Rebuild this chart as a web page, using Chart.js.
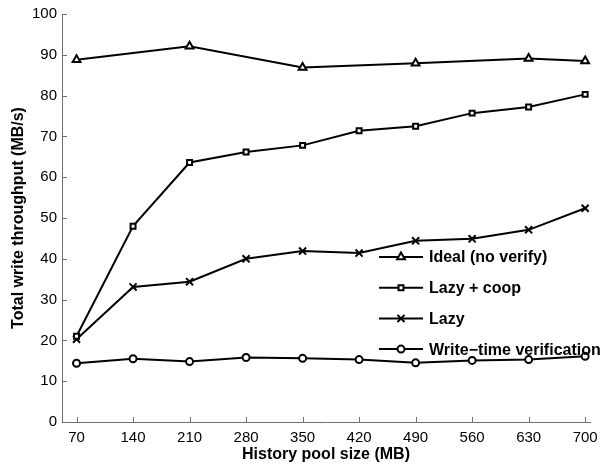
<!DOCTYPE html>
<html lang="en">
<head>
    <meta charset="UTF-8">
    <title>Total write throughput vs history pool size</title>
    <script src="https://cdn.jsdelivr.net/npm/chart.js"></script>
    <style>
        html, body { margin: 0; padding: 0; background: #fff; }
    </style>
</head>
<body>
    <canvas id="myChart" width="605" height="465"></canvas>
    <script>
        // data
        const poolSizes = [70, 140, 210, 280, 350, 420, 490, 560, 630, 700];
        const idealSizes = [70, 210, 350, 490, 630, 700];
        const idealValues = [88.8, 92.1, 86.9, 87.9, 89.1, 88.5];
        const lazyCoopValues = [21.0, 48.0, 63.6, 66.2, 67.8, 71.4, 72.5, 75.7, 77.2, 80.3];
        const lazyValues = [20.3, 33.1, 34.4, 40.0, 41.9, 41.4, 44.4, 44.9, 47.1, 52.4];
        const writeTimeValues = [14.4, 15.5, 14.8, 15.8, 15.6, 15.3, 14.5, 15.1, 15.3, 16.1];
        const xTickLabels = [70, 140, 210, 280, 350, 420, 490, 560, 630, 700];
        const yTickLabels = [0, 10, 20, 30, 40, 50, 60, 70, 80, 90, 100];
        const seriesNames = ['Ideal (no verify)', 'Lazy + coop', 'Lazy', 'Write\u2212time verification'];

        const FONT = '"Liberation Sans", Arial, Helvetica, sans-serif';
        const AXIS_GREY = '#707070';

        function pairs(xs, ys) {
            return xs.map((x, i) => ({ x: x, y: ys[i] }));
        }

        function series(label, data, style, radius) {
            return {
                label: label,
                data: data,
                borderColor: '#000',
                backgroundColor: '#fff',
                borderWidth: 2,
                pointStyle: style,
                pointRadius: radius,
                pointBorderWidth: 2,
                pointBorderColor: '#000',
                pointBackgroundColor: '#fff',
                tension: 0,
                clip: false
            };
        }

        // ticks drawn inward, like the original plot
        const inwardTicks = {
            id: 'inwardTicks',
            afterDraw(chart) {
                const ctx = chart.ctx;
                const x = chart.scales.x, y = chart.scales.y;
                const area = chart.chartArea;
                ctx.save();
                ctx.strokeStyle = AXIS_GREY;
                ctx.lineWidth = 1;
                ctx.beginPath();
                xTickLabels.forEach(v => {
                    const px = Math.round(x.getPixelForValue(v)) + 0.5;
                    ctx.moveTo(px, area.bottom);
                    ctx.lineTo(px, area.bottom - 5);
                });
                yTickLabels.forEach(v => {
                    const py = Math.round(y.getPixelForValue(v)) + 0.5;
                    ctx.moveTo(area.left, py);
                    ctx.lineTo(area.left + 5, py);
                });
                ctx.stroke();
                ctx.restore();
            }
        };

        // legend sits inside the plot, on the right
        const insideLegend = {
            id: 'insideLegend',
            afterDraw(chart) {
                const ctx = chart.ctx;
                const area = chart.chartArea;
                const x0 = area.left + 317;
                const y0 = area.top + 243;
                ctx.save();
                chart.data.datasets.forEach((ds, i) => {
                    const yy = y0 + i * 30.7;
                    ctx.strokeStyle = '#000';
                    ctx.lineWidth = 2;
                    ctx.beginPath();
                    ctx.moveTo(x0, yy);
                    ctx.lineTo(x0 + 44, yy);
                    ctx.stroke();
                    ctx.fillStyle = '#fff';
                    Chart.helpers.drawPoint(ctx, {
                        pointStyle: ds.pointStyle,
                        radius: ds.pointRadius,
                        borderWidth: 2,
                        rotation: 0
                    }, x0 + 22, yy);
                    ctx.fillStyle = '#000';
                    ctx.font = 'bold 16px ' + FONT;
                    ctx.textBaseline = 'middle';
                    ctx.textAlign = 'left';
                    ctx.fillText(ds.label, x0 + 50, yy + 1);
                });
                ctx.restore();
            }
        };

        const ctx = document.getElementById('myChart').getContext('2d');
        const myChart = new Chart(ctx, {
            type: 'line',
            data: {
                datasets: [
                    series(seriesNames[0], pairs(idealSizes, idealValues), 'triangle', 4.5),
                    series(seriesNames[1], pairs(poolSizes, lazyCoopValues), 'rect', 3.5),
                    series(seriesNames[2], pairs(poolSizes, lazyValues), 'crossRot', 5),
                    series(seriesNames[3], pairs(poolSizes, writeTimeValues), 'circle', 3.5)
                ]
            },
            plugins: [inwardTicks, insideLegend],
            options: {
                responsive: false,
                animation: false,
                devicePixelRatio: 1,
                layout: { padding: { top: 10, right: 15, left: 0, bottom: 0 } },
                plugins: {
                    legend: { display: false },
                    tooltip: { enabled: false }
                },
                scales: {
                    x: {
                        type: 'linear',
                        min: 52,
                        max: 706,
                        afterBuildTicks: function(scale) {
                            scale.ticks = xTickLabels.map(v => ({ value: v }));
                        },
                        afterFit: function(scale) { scale.height = 43; },
                        ticks: {
                            color: '#000',
                            font: { family: FONT, size: 15 },
                            maxRotation: 0,
                            autoSkip: false,
                            padding: 7
                        },
                        grid: { display: false, drawTicks: false },
                        border: { display: true, color: AXIS_GREY, width: 1 },
                        title: {
                            display: true,
                            text: 'History pool size (MB)',
                            color: '#000',
                            font: { family: FONT, size: 16, weight: 'bold' },
                            padding: { top: 0, bottom: 1 }
                        }
                    },
                    y: {
                        min: 0,
                        max: 100,
                        afterBuildTicks: function(scale) {
                            scale.ticks = yTickLabels.map(v => ({ value: v }));
                        },
                        afterFit: function(scale) { scale.width = 62; },
                        ticks: {
                            color: '#000',
                            font: { family: FONT, size: 15 },
                            padding: 5
                        },
                        grid: { display: false, drawTicks: false },
                        border: { display: true, color: AXIS_GREY, width: 1 },
                        title: {
                            display: true,
                            text: 'Total write throughput (MB/s)',
                            color: '#000',
                            font: { family: FONT, size: 16, weight: 'bold' },
                            padding: { top: 9, bottom: 0 }
                        }
                    }
                }
            }
        });
    </script>
</body>
</html>
